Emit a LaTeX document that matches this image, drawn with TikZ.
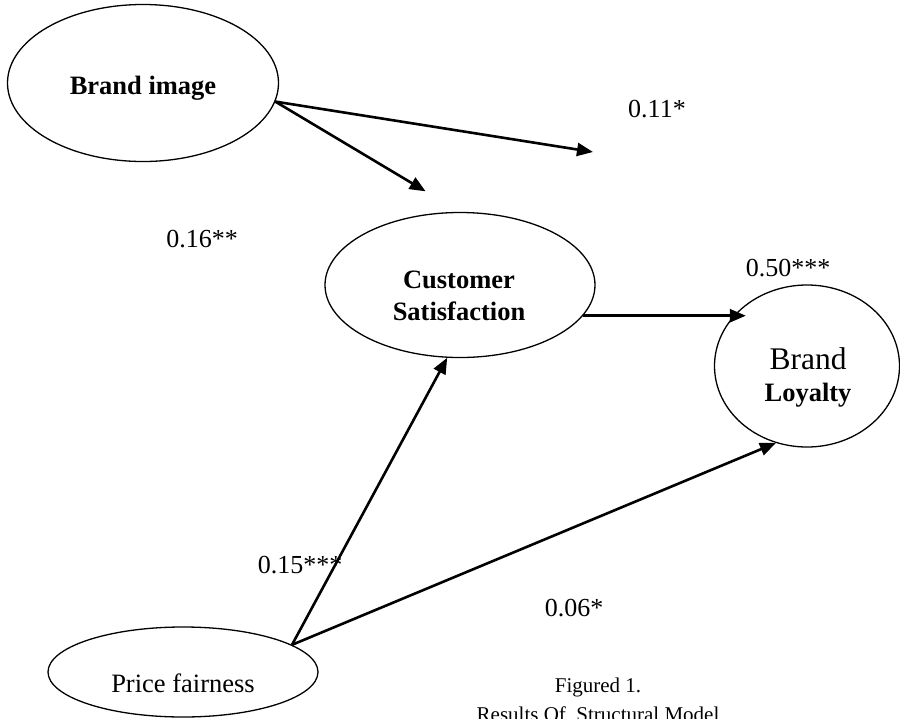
\documentclass[tikz,border=0pt]{standalone}
\usepackage{fontspec}
\setmainfont{Liberation Serif}
\usetikzlibrary{shapes.geometric}
\usetikzlibrary{arrows.meta}
\usetikzlibrary{calc}

\begin{document}
\begin{tikzpicture}[x=1pt, y=-1pt,
  construct/.style={ellipse, draw, line width=1.3pt, inner sep=0},
  cname/.style={align=center, font=\fontsize{26.5}{32}\selectfont},
  effect/.style={line width=2.6pt, -{Triangle[length=16pt,width=13pt]}},
  coef/.style={font=\fontsize{26}{30}\selectfont},
  caption/.style={font=\fontsize{21}{29}\selectfont}]
\useasboundingbox (0,0) rectangle (900,718);
% latent variables
\node[construct, minimum width=271, minimum height=157] (bi) at (143,83) {};
\node[construct, minimum width=270, minimum height=145] (cs) at (460,285) {};
\node[construct, minimum width=185, minimum height=162] (bl) at (807,366) {};
\node[construct, minimum width=270, minimum height=90] (pf) at (183,672) {};
\node[cname] (bi-t) at (143,88) {\bfseries Brand image};
\node[cname] (cs-t) at (459,296) {\bfseries Customer\\\bfseries Satisfaction};
\node[cname] (bl-t) at (808,377) {{\fontsize{31.5}{42}\selectfont Brand}\\\bfseries Loyalty};
\node[cname] (pf-t) at (183,683) {Price fairness};
% paths
\coordinate (bi-end) at (593,152);
\draw[effect] (bi.-8) -- (bi-end);
\draw[effect, shorten >=40pt] (bi.-8) -- (cs.north);
\draw[effect, shorten >=-32pt] (cs.-14) -- (cs.-14 -| bl.west);
\draw[effect] (pf.14) -- (cs.-100);
\draw[effect] (pf.14) -- (bl.-112);
% coefficients
\node[coef] (c1) at (657,109) {0.11*};
\node[coef] (c2) at (202,239) {0.16**};
\node[coef] (c3) at (788,268) {0.50***};
\node[coef] (c4) at (300,565) {0.15***};
\node[coef] (c5) at (574,608) {0.06*};
\node[caption, align=center] (cap) at (598,700) {Figured 1.\\Results Of\ \ Structural Model};
\end{tikzpicture}
\end{document}
